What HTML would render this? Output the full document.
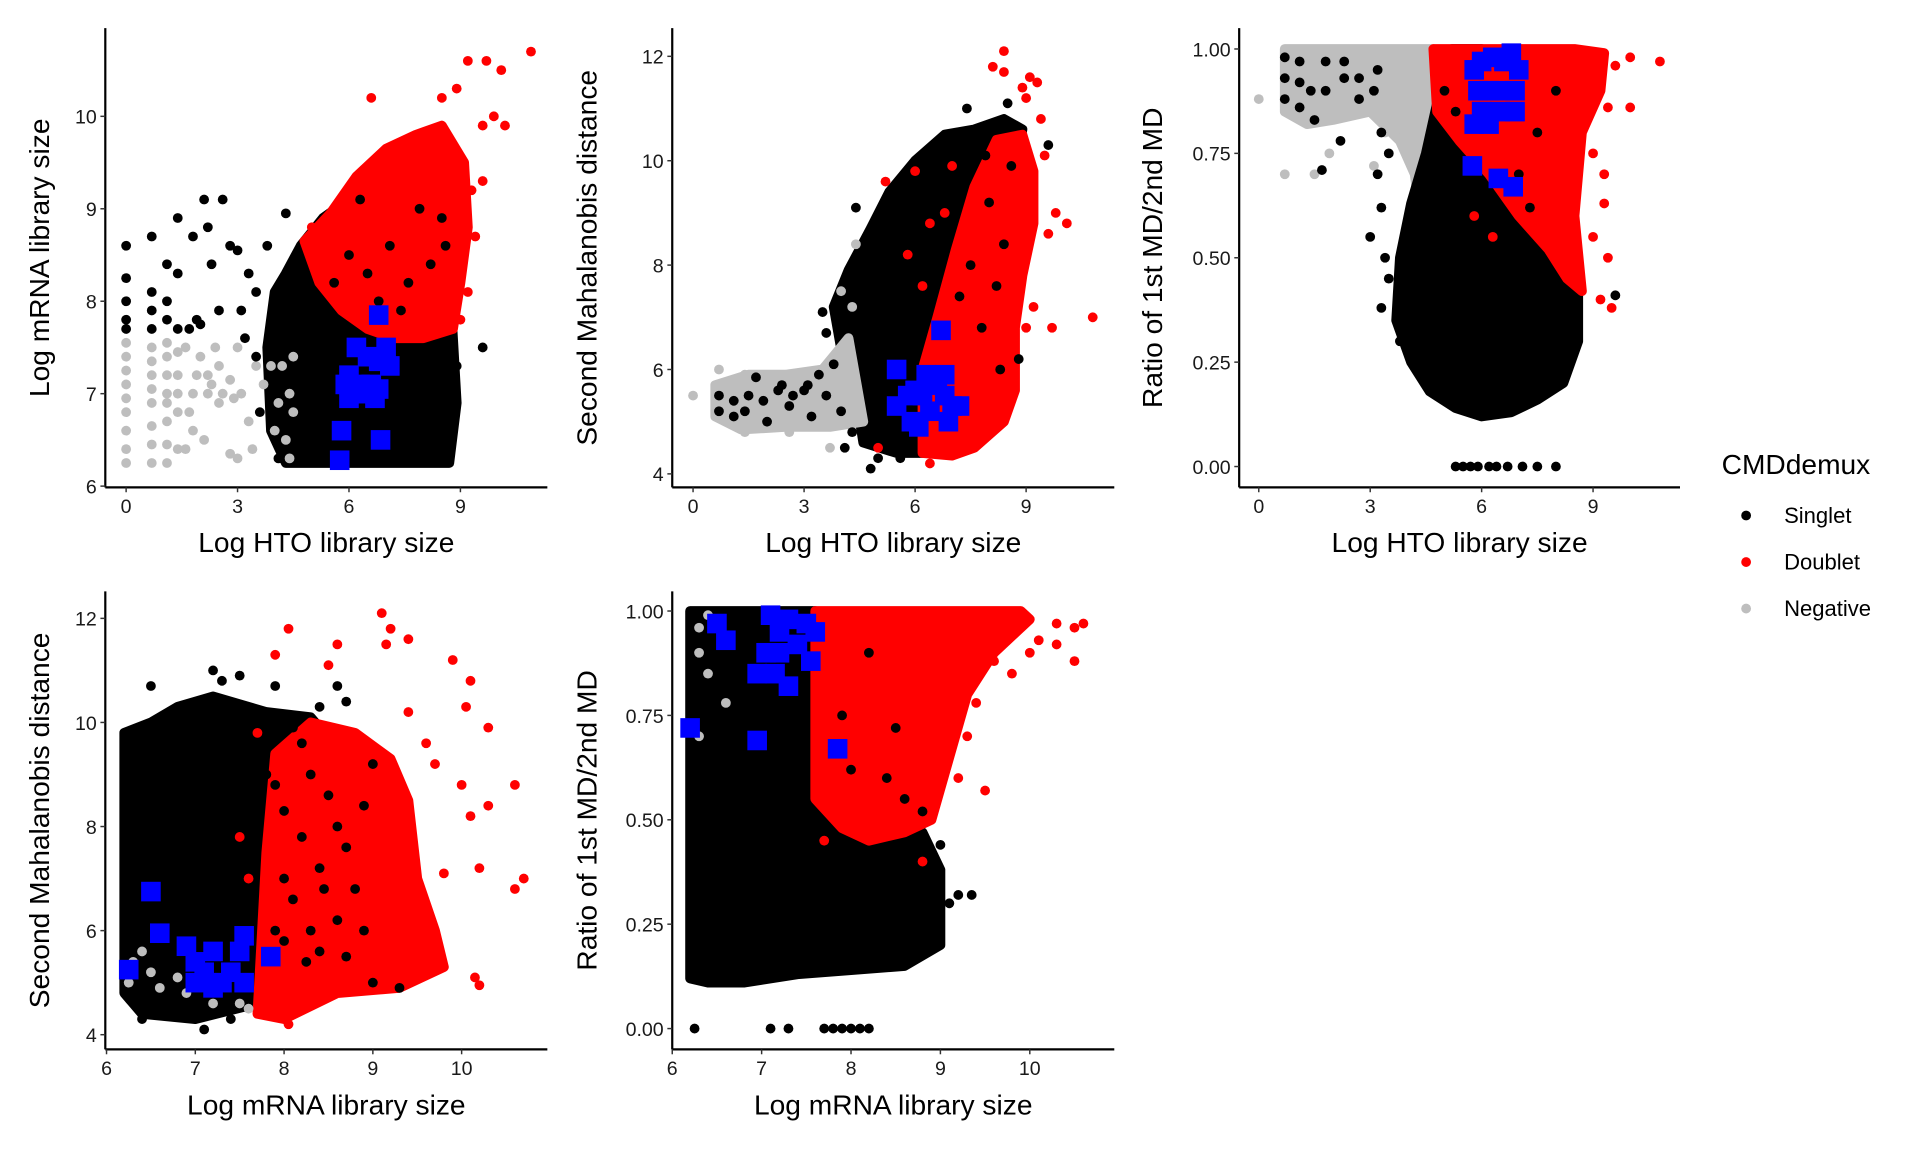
<!DOCTYPE html>
<html><head><meta charset="utf-8"><style>
html,body{margin:0;padding:0;background:#fff;}
svg{display:block;font-family:"Liberation Sans",sans-serif;}
</style></head>
<body>
<svg id="fig" width="1920" height="1152" viewBox="0 0 1568 940.8" xmlns="http://www.w3.org/2000/svg"></svg>
<script>
// ---------- DATA (data units) ----------
// Panel 1: Log HTO vs Log mRNA
const p1SingletCloud=[[4.3,6.25],[3.9,6.6],[3.8,7.5],[4.0,8.1],[4.3,8.3],[4.7,8.6],[5.3,8.9],[6,9.1],[7,9.2],[8,8.9],[8.7,8.3],[8.8,7.6],[8.9,6.9],[8.7,6.25]];
const p1DoubletCloud=[[4.8,8.65],[5.5,8.95],[6.2,9.35],[7,9.65],[7.8,9.8],[8.5,9.9],[9.1,9.5],[9.2,8.8],[9,8.2],[8.8,7.7],[8,7.6],[7.2,7.6],[6.5,7.7],[5.8,7.9],[5.2,8.2]];
const p1NegativeCloud=[];
const p1Singlet=[[0,8.6],[0,8.25],[0,8.0],[0,7.8],[0,7.7],[0.69,8.7],[0.69,8.1],[0.69,7.9],[0.69,7.7],[1.1,8.4],[1.1,8.0],[1.1,7.8],[1.39,8.9],[1.39,8.3],[1.39,7.7],[1.8,8.7],[1.9,7.8],[2.1,9.1],[2.2,8.8],[2.3,8.4],[2.6,9.1],[2.8,8.6],[3.0,8.55],[2.5,7.9],[3.1,7.9],[3.3,8.3],[3.5,8.1],[3.8,8.6],[4.3,8.95],[3.2,7.6],[3.5,7.4],[3.6,6.8],[4.1,6.3],[9.6,7.5],[8.9,7.3],[8.8,7.0],[1.7,7.7],[2.0,7.75],[6.0,8.5],[6.5,8.3],[7.1,8.6],[7.6,8.2],[8.2,8.4],[7.9,9.0],[6.8,8.0],[8.5,8.9],[5.6,8.2],[6.3,9.1],[7.4,7.9],[8.6,8.6]];
const p1Doublet=[[6.6,10.2],[8.5,10.2],[8.9,10.3],[9.2,10.6],[9.7,10.6],[10.1,10.5],[10.9,10.7],[9.9,10.0],[10.2,9.9],[9.6,9.9],[9.3,9.2],[9.4,8.7],[7.4,9.6],[9.6,9.3],[5.0,8.8],[5.3,8.4],[9.2,8.1],[9.0,7.8]];
const p1Negative=[[0,6.25],[0,6.4],[0,6.6],[0,6.8],[0,6.95],[0,7.1],[0,7.25],[0,7.4],[0,7.55],[0.69,6.25],[0.69,6.45],[0.69,6.65],[0.69,6.9],[0.69,7.05],[0.69,7.2],[0.69,7.35],[0.69,7.5],[1.1,6.25],[1.1,6.45],[1.1,6.7],[1.1,6.9],[1.1,7.0],[1.1,7.2],[1.1,7.4],[1.1,7.55],[1.39,6.4],[1.39,6.8],[1.39,7.0],[1.39,7.2],[1.39,7.45],[1.6,6.4],[1.7,6.8],[1.8,7.0],[1.9,7.2],[2.0,7.4],[2.2,7.0],[2.3,7.1],[2.5,6.9],[2.5,7.3],[2.6,7.0],[2.8,7.15],[2.9,6.95],[3.1,7.0],[3.3,6.7],[3.4,6.4],[3.5,7.3],[3.7,7.1],[3.9,7.3],[4.0,6.6],[4.1,6.9],[4.2,7.3],[4.3,6.5],[4.4,7.0],[4.4,6.3],[2.8,6.35],[2.1,6.5],[3.0,6.3],[1.6,7.5],[2.4,7.5],[3.0,7.5],[1.8,6.6],[2.2,7.2],[4.5,6.8],[4.5,7.4]];
const p1Blue=[[5.75,6.28],[5.8,6.6],[6.85,6.5],[5.9,7.1],[6.0,7.2],[6.2,7.0],[6.3,7.1],[6.5,7.4],[6.6,7.1],[6.8,7.05],[6.8,7.35],[7.0,7.5],[7.1,7.3],[6.8,7.85],[6.2,7.5],[6.0,6.95],[6.7,6.95]];

// Panel 2: Log HTO vs second MD
const p2SingletCloud=[[4.6,4.6],[4.4,5.5],[4.0,6.4],[3.8,7.2],[4.2,7.9],[4.8,8.7],[5.3,9.4],[6.0,10.0],[6.8,10.5],[7.6,10.6],[8.4,10.8],[8.9,10.6],[8.5,9.0],[7.8,7.5],[7.4,6.0],[7.2,5.0],[6.6,4.4],[5.5,4.4]];
const p2DoubletCloud=[[6.2,4.4],[6.2,6.0],[6.6,7.0],[7.1,8.3],[7.6,9.5],[8.2,10.4],[8.9,10.5],[9.2,9.8],[9.2,8.8],[8.9,7.8],[8.7,6.8],[8.7,5.6],[8.4,5.0],[7.6,4.5],[7.0,4.35]];
const p2NegativeCloud=[[0.6,5.1],[0.6,5.7],[1.5,5.9],[2.5,5.9],[3.5,6.0],[4.2,6.6],[4.6,5.0],[3.7,4.9],[2.5,4.9],[1.3,4.85]];
const p2Singlet=[[0.7,5.2],[0.7,5.5],[1.1,5.1],[1.1,5.4],[1.4,5.2],[1.5,5.5],[1.7,5.85],[1.9,5.4],[2.0,5.0],[2.3,5.6],[2.4,5.7],[2.6,5.3],[2.7,5.5],[3.0,5.6],[3.1,5.7],[3.2,5.1],[3.4,5.9],[3.6,5.5],[3.8,6.1],[3.5,7.1],[3.6,6.7],[4.0,5.2],[4.1,4.5],[4.8,4.1],[9.6,10.3],[8.5,11.1],[7.4,11.0],[4.4,9.1],[8.8,6.2],[4.3,4.8],[5.0,4.3],[5.6,4.3],[7.5,8.0],[8.0,9.2],[7.8,6.8],[8.2,7.6],[8.4,8.4],[7.2,7.4],[8.6,9.9],[7.9,10.1],[8.3,6.0]];
const p2Doublet=[[8.4,12.1],[8.1,11.8],[8.4,11.7],[9.1,11.6],[9.3,11.5],[8.9,11.4],[9.0,11.2],[9.4,10.8],[9.5,10.1],[9.8,9.0],[10.1,8.8],[9.6,8.6],[9.2,7.2],[9.7,6.8],[9.0,6.8],[10.8,7.0],[8.3,5.8],[8.5,5.3],[6.4,4.2],[5.0,4.5],[6.8,9.0],[6.4,8.8],[5.2,9.6],[6.0,9.8],[5.8,8.2],[7.0,9.9],[6.2,7.6],[8.2,4.9]];
const p2Negative=[[0,5.5],[0.7,6.0],[3.7,4.5],[2.6,4.8],[1.4,4.8],[4.4,8.4],[4.3,7.2],[4.0,7.5],[1.4,5.9],[2.9,5.0]];
const p2Blue=[[5.5,6.0],[6.7,6.75],[5.8,5.5],[6.0,5.6],[6.2,5.5],[6.4,5.7],[6.6,5.8],[6.8,5.5],[7.0,5.3],[6.9,5.0],[5.9,5.0],[6.1,4.9],[6.4,5.2],[5.5,5.3],[6.3,5.9],[6.8,5.9],[7.2,5.3]];

// Panel 3: Log HTO vs ratio
const p3NegativeCloud=[[0.7,0.85],[0.7,1.0],[4.7,1.0],[4.7,0.6],[4.4,0.55],[4.2,0.7],[3.8,0.78],[3.0,0.85],[2.0,0.83],[1.3,0.82]];
const p3SingletCloud=[[5.0,0.95],[4.5,0.75],[4.1,0.63],[3.8,0.5],[3.7,0.35],[4.1,0.25],[4.6,0.18],[5.3,0.14],[6.0,0.12],[6.8,0.13],[7.5,0.16],[8.2,0.2],[8.6,0.3],[8.6,0.45],[8.2,0.52],[7.5,0.6],[6.5,0.8],[6.0,1.0],[5.2,1.0]];
const p3DoubletCloud=[[4.7,1.0],[8.5,1.0],[9.3,0.99],[9.2,0.9],[8.7,0.8],[8.5,0.6],[8.7,0.42],[8.3,0.45],[7.8,0.52],[7.0,0.6],[6.2,0.7],[5.4,0.78],[4.8,0.85]];
const p3Singlet=[[0.7,0.98],[0.7,0.93],[0.7,0.88],[1.1,0.97],[1.1,0.92],[1.1,0.86],[1.4,0.9],[1.5,0.83],[1.8,0.97],[1.8,0.9],[2.3,0.97],[2.3,0.93],[2.2,0.78],[2.7,0.93],[2.7,0.88],[3.1,0.9],[3.2,0.95],[3.3,0.8],[3.5,0.75],[3.2,0.7],[3.3,0.62],[1.7,0.71],[3.4,0.5],[3.0,0.55],[9.6,0.41],[5.5,0],[5.7,0],[5.9,0],[6.4,0],[6.7,0],[7.1,0],[7.5,0],[8.0,0],[5.3,0],[6.2,0],[3.5,0.45],[3.8,0.3],[3.3,0.38],[5.0,0.9],[5.3,0.85],[5.6,0.65],[5.2,0.6],[7.0,0.7],[7.5,0.8],[8.0,0.9],[6.8,0.55],[7.3,0.62]];
const p3Doublet=[[10.8,0.97],[10.0,0.98],[9.6,0.96],[10,0.86],[9.4,0.86],[9.0,0.75],[9.3,0.7],[9.3,0.63],[9.4,0.5],[9.5,0.38],[9.2,0.4],[9.0,0.55],[5.8,0.6],[6.3,0.55]];
const p3Negative=[[0,0.88],[0.7,0.7],[1.9,0.75],[1.5,0.7],[3.4,0.8],[3.1,0.72]];
const p3Blue=[[5.8,0.95],[6.0,0.97],[6.3,0.98],[6.6,0.97],[6.8,0.99],[7.0,0.95],[5.9,0.9],[6.2,0.9],[6.5,0.9],[6.9,0.9],[6.0,0.85],[6.2,0.82],[6.5,0.85],[6.9,0.85],[5.8,0.82],[5.75,0.72],[6.45,0.69],[6.85,0.67]];

// Panel 4: Log mRNA vs second MD
const p4SingletCloud=[[6.2,4.8],[6.2,9.8],[6.5,10.0],[6.8,10.3],[7.2,10.5],[7.8,10.2],[8.3,10.1],[8.6,9.5],[8.7,8.0],[8.5,6.5],[8.2,5.2],[7.7,4.6],[7.0,4.3],[6.4,4.4]];
const p4DoubletCloud=[[7.7,4.4],[7.8,7.5],[7.9,9.4],[8.3,10.0],[8.8,9.8],[9.2,9.3],[9.4,8.5],[9.5,7.0],[9.7,6.0],[9.8,5.3],[9.3,4.9],[8.6,4.8],[8.0,4.3]];
const p4NegativeCloud=[];
const p4Singlet=[[7.8,9.0],[8.0,8.3],[8.2,7.8],[8.4,7.2],[8.1,6.6],[8.6,6.2],[8.3,9.0],[8.5,8.6],[7.9,6.0],[8.4,5.6],[8.7,7.6],[8.9,8.4],[9.0,9.2],[8.8,6.8],[8.6,10.7],[7.9,10.7],[7.5,10.9],[7.2,11.0],[7.3,10.8],[6.5,10.7],[9.0,5.0],[9.3,4.9],[7.1,4.1],[6.4,4.3],[7.4,4.3],[8.2,9.6],[8.0,7.0],[8.3,6.0],[8.6,8.0],[7.9,8.8],[8.1,9.9],[8.4,10.3],[8.7,10.4],[8.45,6.8],[8.25,5.4],[8.0,5.8],[8.7,5.5],[8.9,6.0]];
const p4Doublet=[[9.1,12.1],[8.05,11.8],[9.2,11.8],[9.4,11.6],[9.15,11.5],[8.6,11.5],[7.9,11.3],[8.5,11.1],[9.9,11.2],[10.1,10.8],[10.05,10.3],[10.3,9.9],[9.7,9.2],[10.0,8.8],[10.1,8.2],[10.3,8.4],[10.6,8.8],[10.2,7.2],[10.6,6.8],[10.7,7.0],[9.8,7.1],[10.15,5.1],[10.2,4.95],[9.7,5.5],[8.05,4.2],[9.6,5.7],[9.4,10.2],[9.6,9.6],[7.6,7.0],[7.5,7.8],[7.7,9.8]];
const p4Negative=[[6.25,5.0],[6.3,5.4],[6.5,5.2],[6.6,4.9],[6.9,4.8],[7.2,4.6],[7.5,4.6],[6.4,5.6],[6.8,5.1],[7.6,4.5]];
const p4Blue=[[6.25,5.25],[6.5,6.75],[6.6,5.95],[6.9,5.7],[7.0,5.4],[7.1,5.2],[7.2,5.6],[7.3,5.0],[7.4,5.2],[7.5,5.6],[7.55,5.9],[7.0,5.0],[7.2,4.9],[7.85,5.5],[7.55,5.0]];

// Panel 5: Log mRNA vs ratio
const p5SingletCloud=[[6.2,0.12],[6.2,1.0],[7.6,1.0],[7.6,0.7],[7.8,0.6],[8.3,0.5],[8.8,0.47],[9.0,0.38],[9.0,0.2],[8.6,0.15],[8.0,0.14],[7.4,0.13],[6.8,0.11],[6.4,0.11]];
const p5DoubletCloud=[[7.6,1.0],[9.9,1.0],[10.0,0.98],[9.6,0.9],[9.3,0.8],[9.1,0.65],[8.9,0.5],[8.6,0.47],[8.2,0.45],[7.9,0.48],[7.6,0.55]];
const p5NegativeCloud=[];
const p5Singlet=[[9.0,0.44],[9.1,0.3],[9.2,0.32],[9.35,0.32],[8.9,0.25],[8.6,0.55],[8.8,0.52],[8.0,0.62],[8.4,0.6],[6.25,0],[7.1,0],[7.3,0],[7.8,0],[7.9,0],[8.0,0],[8.1,0],[8.2,0],[7.7,0],[8.2,0.9],[8.5,0.72],[7.9,0.75]];
const p5Doublet=[[10.3,0.97],[10.5,0.96],[10.6,0.97],[10.5,0.88],[10.3,0.92],[10.1,0.93],[10.0,0.9],[9.8,0.85],[9.6,0.88],[9.4,0.78],[9.5,0.57],[9.3,0.7],[9.2,0.6],[8.8,0.4],[7.7,0.45]];
const p5Negative=[[6.3,0.96],[6.3,0.9],[6.4,0.85],[6.6,0.78],[6.3,0.7],[6.4,0.99]];
const p5Blue=[[6.2,0.72],[6.5,0.97],[6.6,0.93],[6.95,0.69],[7.1,0.99],[7.2,0.95],[7.3,0.98],[7.5,0.97],[7.6,0.95],[7.05,0.9],[7.2,0.9],[7.55,0.88],[6.95,0.85],[7.15,0.85],[7.3,0.82],[7.85,0.67],[7.4,0.92]];

const htoTicks=[0,3,6,9];
const mrnaTicks=[6,7,8,9,10];
const mdTicks=[4,6,8,10,12];
const ratioTicks=[0,0.25,0.5,0.75,1];
const ratioTickLabels=["0.00","0.25","0.50","0.75","1.00"];
const legendLabels=["Singlet","Doublet","Negative"];
// ---------- RENDER ----------
const NS="http://www.w3.org/2000/svg";
const svg=document.getElementById('fig');
const COL={s:"#000000",d:"#ff0000",n:"#bebebe",b:"#0000ff"};
function mk(tag,attrs,parent){const e=document.createElementNS(NS,tag);for(const k in attrs)e.setAttribute(k,attrs[k]);(parent||svg).appendChild(e);return e;}
function lin(d0,d1,r0,r1){return v=>r0+(v-d0)*(r1-r0)/(d1-d0);}

const panels=[
 {id:"p1",ax:86,ay:398,top:23,right:447,x:lin(0,9,103,376),y:lin(6,10,397,95),xt:htoTicks,yt:mrnaTicks,ytl:null,xlab:"Log HTO library size",ylab:"Log mRNA library size",ylx:40,
  sc:p1SingletCloud,dc:p1DoubletCloud,nc:p1NegativeCloud,s:p1Singlet,d:p1Doublet,n:p1Negative,b:p1Blue},
 {id:"p2",ax:549,ay:398,top:23,right:910,x:lin(0,9,566,838),y:lin(4,12,387,46),xt:htoTicks,yt:mdTicks,ytl:null,xlab:"Log HTO library size",ylab:"Second Mahalanobis distance",ylx:487,
  sc:p2SingletCloud,dc:p2DoubletCloud,nc:p2NegativeCloud,s:p2Singlet,d:p2Doublet,n:p2Negative,b:p2Blue},
 {id:"p3",ax:1012,ay:398,top:23,right:1372,x:lin(0,9,1028,1301),y:lin(0,1,381,40),xt:htoTicks,yt:ratioTicks,ytl:ratioTickLabels,xlab:"Log HTO library size",ylab:"Ratio of 1st MD/2nd MD",ylx:949,
  sc:p3SingletCloud,dc:p3DoubletCloud,nc:p3NegativeCloud,s:p3Singlet,d:p3Doublet,n:p3Negative,b:p3Blue,order:"nsd"},
 {id:"p4",ax:86,ay:857,top:483,right:447,x:lin(6,10,87,377),y:lin(4,12,845,505),xt:mrnaTicks,yt:mdTicks,ytl:null,xlab:"Log mRNA library size",ylab:"Second Mahalanobis distance",ylx:40,
  sc:p4SingletCloud,dc:p4DoubletCloud,nc:p4NegativeCloud,s:p4Singlet,d:p4Doublet,n:p4Negative,b:p4Blue},
 {id:"p5",ax:549,ay:857,top:483,right:910,x:lin(6,10,549,841),y:lin(0,1,840,499),xt:mrnaTicks,yt:ratioTicks,ytl:ratioTickLabels,xlab:"Log mRNA library size",ylab:"Ratio of 1st MD/2nd MD",ylx:487,
  sc:p5SingletCloud,dc:p5DoubletCloud,nc:p5NegativeCloud,s:p5Singlet,d:p5Doublet,n:p5Negative,b:p5Blue}
];

panels.forEach(p=>{
  const g=mk('g',{});
  
  
  function cloud(pts,col,name){
    if(!pts.length)return;
    const poly=mk('polygon',{points:pts.map(q=>p.x(q[0])+','+p.y(q[1])).join(' '),fill:col,stroke:col,'stroke-width':8,'stroke-linejoin':'round'},g);
    
    
  }
  function dots(pts,col,name){
    pts.forEach(q=>{
      const c=mk('circle',{cx:p.x(q[0]),cy:p.y(q[1]),r:4,fill:col},g);
      
      
    });
  }
  const order=p.order||"snd";
  for(const k of order){
    if(k==='s')cloud(p.sc,COL.s,'singlet-cloud');
    if(k==='d')cloud(p.dc,COL.d,'doublet-cloud');
    if(k==='n')cloud(p.nc,COL.n,'negative-cloud');
  }
  dots(p.n,COL.n,'negative-point');
  dots(p.s,COL.s,'singlet-point');
  dots(p.d,COL.d,'doublet-point');
  p.b.forEach(q=>{
    const r=mk('rect',{x:p.x(q[0])-8,y:p.y(q[1])-8,width:16,height:16,fill:COL.b},g);
    
    
  });
  const ya=mk('line',{x1:p.ax,y1:p.top,x2:p.ax,y2:p.ay,stroke:'#000','stroke-width':1.8},g);
  
  
  const xa=mk('line',{x1:p.ax,y1:p.ay,x2:p.right,y2:p.ay,stroke:'#000','stroke-width':1.8},g);
  
  
  p.xt.forEach(v=>{
    const X=p.x(v);
    mk('line',{x1:X,y1:p.ay,x2:X,y2:p.ay+4,stroke:'#333','stroke-width':1.2},g);
    const t=mk('text',{x:X,y:p.ay+21,'text-anchor':'middle','font-size':16,fill:'#1a1a1a'},g);
    t.textContent=String(v);
    
    
  });
  p.yt.forEach((v,i)=>{
    const Y=p.y(v);
    mk('line',{x1:p.ax-4,y1:Y,x2:p.ax,y2:Y,stroke:'#333','stroke-width':1.2},g);
    const t=mk('text',{x:p.ax-7,y:Y+6,'text-anchor':'end','font-size':16,fill:'#1a1a1a'},g);
    t.textContent=p.ytl?p.ytl[i]:String(v);
    
    
  });
  const xt=mk('text',{x:(p.ax+p.right)/2,y:p.ay+53,'text-anchor':'middle','font-size':23,fill:'#000'},g);
  xt.textContent=p.xlab;
  
  
  const cy=(p.top+p.ay)/2;
  const yt=mk('text',{x:p.ylx,y:cy,'text-anchor':'middle','font-size':23,fill:'#000',transform:`rotate(-90 ${p.ylx} ${cy})`},g);
  yt.textContent=p.ylab;
  
  
});

const lg=mk('g',{});


const lt=mk('text',{x:1406,y:387,'font-size':23,fill:'#000'},lg);
lt.textContent="CMDdemux";


[COL.s,COL.d,COL.n].forEach((c,i)=>{
  const y=421+i*38;
  const dot=mk('circle',{cx:1426,cy:y,r:4,fill:c},lg);
  
  
  const t=mk('text',{x:1457,y:y+6,'font-size':18,fill:'#000'},lg);
  t.textContent=legendLabels[i];
  
  
});
</script>
</body></html>
